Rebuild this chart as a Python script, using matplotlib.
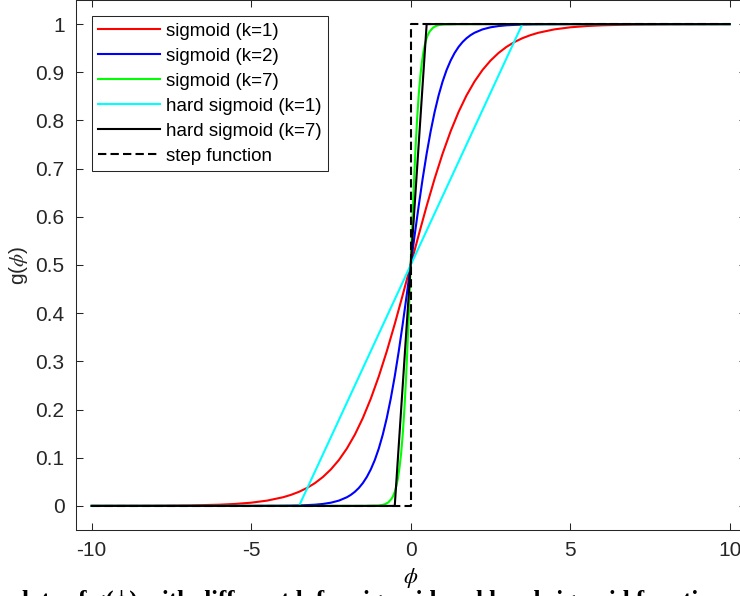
import matplotlib
matplotlib.use("Agg")
import matplotlib.pyplot as plt

# values (lower half, centre, upper half)
red_x = ([-10, -8, -7, -6, -5.5, -5, -4.5, -4, -3.75, -3.5, -3.25, -3, -2.75, -2.5, -2.25, -2,
          -1.75, -1.5, -1.25, -1, -0.75, -0.5, -0.25]
         + [0]
         + [0.25, 0.5, 0.75, 1, 1.25, 1.5, 1.75, 2, 2.25, 2.5, 2.75, 3, 3.25, 3.5, 3.75, 4,
            4.5, 5, 5.5, 6, 7, 8, 10])
red_y = ([0.00005, 0.0003, 0.0009, 0.0025, 0.0041, 0.0067, 0.0110, 0.0180, 0.0230, 0.0293, 0.0373,
          0.0474, 0.0601, 0.0759, 0.0953, 0.1192, 0.1480, 0.1824, 0.2227, 0.2689, 0.3208, 0.3775, 0.4378]
         + [0.5]
         + [0.5622, 0.6225, 0.6792, 0.7311, 0.7773, 0.8176, 0.8520, 0.8808, 0.9047, 0.9241, 0.9399,
            0.9526, 0.9627, 0.9707, 0.9770, 0.9820, 0.9890, 0.9933, 0.9959, 0.9975, 0.9991, 0.9997, 0.99995])

blue_x = ([-10, -5, -4, -3.5, -3, -2.75, -2.5, -2.25, -2, -1.875, -1.75, -1.625, -1.5, -1.375, -1.25,
           -1.125, -1, -0.875, -0.75, -0.625, -0.5, -0.375, -0.25, -0.125]
          + [0]
          + [0.125, 0.25, 0.375, 0.5, 0.625, 0.75, 0.875, 1, 1.125, 1.25, 1.375, 1.5, 1.625, 1.75,
             1.875, 2, 2.25, 2.5, 2.75, 3, 3.5, 4, 5, 10])
blue_y = ([0.0, 0.00005, 0.0003, 0.0009, 0.0025, 0.0041, 0.0067, 0.0110, 0.0180, 0.0230, 0.0293, 0.0373,
           0.0474, 0.0601, 0.0759, 0.0953, 0.1192, 0.1480, 0.1824, 0.2227, 0.2689, 0.3208, 0.3775, 0.4378]
          + [0.5]
          + [0.5622, 0.6225, 0.6792, 0.7311, 0.7773, 0.8176, 0.8520, 0.8808, 0.9047, 0.9241, 0.9399,
             0.9526, 0.9627, 0.9707, 0.9770, 0.9820, 0.9890, 0.9933, 0.9959, 0.9975, 0.9991, 0.9997,
             0.99995, 1.0])

green_x = ([-10, -1.5, -1, -0.9, -0.8, -0.7, -0.6, -0.55, -0.5, -0.45, -0.4, -0.35, -0.3, -0.25,
            -0.2, -0.15, -0.1, -0.05]
           + [0]
           + [0.05, 0.1, 0.15, 0.2, 0.25, 0.3, 0.35, 0.4, 0.45, 0.5, 0.55, 0.6, 0.7, 0.8, 0.9, 1, 1.5, 10])
green_y = ([0.0, 0.00003, 0.0009, 0.0018, 0.0037, 0.0074, 0.0148, 0.0208, 0.029, 0.0411, 0.057, 0.080,
            0.109, 0.148, 0.198, 0.259, 0.332, 0.413]
           + [0.5]
           + [0.587, 0.668, 0.741, 0.802, 0.852, 0.891, 0.920, 0.943, 0.9589, 0.971, 0.9792, 0.9852,
              0.9926, 0.9963, 0.9982, 0.9991, 0.99997, 1.0])

hard1_x = [-10, -3.5, 3.5, 10]
hard1_y = [0, 0, 1, 1]
hard7_x = [-10, -0.5, 0.5, 10]
hard7_y = [0, 0, 1, 1]
step_x = [-10, 0, 0, 10]
step_y = [0, 0, 1, 1]

labels = ["sigmoid (k=1)", "sigmoid (k=2)", "sigmoid (k=7)",
          "hard sigmoid (k=1)", "hard sigmoid (k=7)", "step function"]
x_ticks = [-10, -5, 0, 5, 10]
y_ticks = [0, 0.1, 0.2, 0.3, 0.4, 0.5, 0.6, 0.7, 0.8, 0.9, 1]
y_ticklabels = ["0", "0.1", "0.2", "0.3", "0.4", "0.5", "0.6", "0.7", "0.8", "0.9", "1"]
caption = "plots of g(\u03d5) with different k for sigmoid and hard sigmoid functions"

plt.rcParams["font.family"] = ["Liberation Sans", "DejaVu Sans"]
plt.rcParams["mathtext.fontset"] = "stix"

fig = plt.figure(figsize=(7.4, 5.96), dpi=100)
ax = fig.add_axes([75.7 / 740, 66 / 596, 670 / 740, 530 / 596])

lw = 1.5
ax.plot(red_x, red_y, color="#ff0000", lw=lw, label=labels[0])
ax.plot(blue_x, blue_y, color="#0000ff", lw=lw, label=labels[1])
ax.plot(green_x, green_y, color="#00ff00", lw=lw, label=labels[2])
ax.plot(hard1_x, hard1_y, color="#00ffff", lw=lw, label=labels[3])
ax.plot(hard7_x, hard7_y, color="black", lw=lw, label=labels[4])
ax.plot(step_x, step_y, color="black", lw=lw, ls=(0, (4, 2)), label=labels[5])

ax.set_xlim(-10.5, 10.5)
ax.set_ylim(-0.05, 1.05)
ax.set_xticks(x_ticks)
ax.set_xticklabels([str(t) for t in x_ticks])
ax.set_yticks(y_ticks)
ax.set_yticklabels(y_ticklabels)

edge = "#262626"
for s in ax.spines.values():
    s.set_color(edge)
    s.set_linewidth(0.75)
ax.tick_params(direction="in", top=True, right=True, length=5, width=0.75,
               color=edge, labelcolor=edge, labelsize=15, pad=8)

ax.set_xlabel(r"$\phi$", fontsize=16, labelpad=4)
ax.set_ylabel(r"g($\phi$)", fontsize=15, color=edge, labelpad=4)

leg = ax.legend(loc="upper left", bbox_to_anchor=(91.7 / 740, 1 - 16 / 596),
                bbox_transform=fig.transFigure, borderaxespad=0, fancybox=False,
                framealpha=1, edgecolor=edge, fontsize=13.5, handlelength=3.3,
                handletextpad=0.3, labelspacing=0.42, borderpad=0.35)
leg.get_frame().set_linewidth(0.75)

fig.text(8 / 740, -12 / 596, caption, family="Liberation Serif", fontsize=18,
         fontweight="bold", va="baseline", ha="left")

fig.savefig("out.png", dpi=100)
